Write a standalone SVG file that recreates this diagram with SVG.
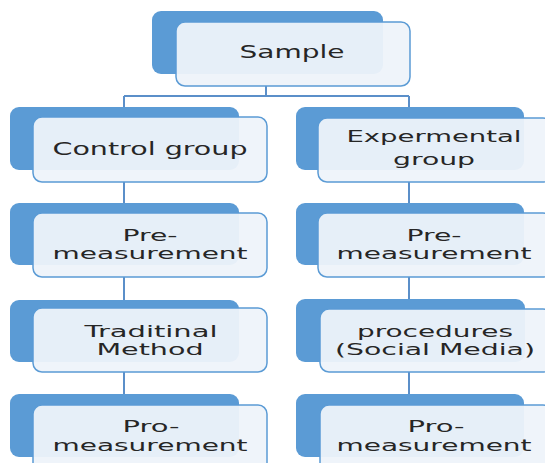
<svg xmlns="http://www.w3.org/2000/svg" width="545" height="463" viewBox="0 0 545 463">
<style>
.back{fill:#5B9BD5;}
.front{fill:#EEF3FA;fill-opacity:0.95;stroke:#5B9BD5;stroke-width:1.5;}
.lbl{font-family:"DejaVu Sans",Verdana,sans-serif;font-size:16px;fill:#262626;text-anchor:middle;}
.big{font-size:18px;}
.conn{fill:none;stroke:#5B8FC9;stroke-width:2;}
</style>
<rect width="545" height="463" fill="#ffffff"/>
<g id="connectors">
<path class="conn" d="M266 86 V96 M124 96 H409 M124 96 V107 M409 96 V107"/>
<path class="conn" d="M124 182 V203 M124 277 V300 M124 372 V394"/>
<path class="conn" d="M409 182 V203 M409 277 V300 M409 372 V394"/>
</g>
<g id="sample">
<rect class="back" x="152" y="11" width="231" height="63" rx="9"/>
<rect class="front" x="176" y="22" width="234" height="64" rx="9"/>
<text class="lbl big" x="292" y="58" textLength="105" lengthAdjust="spacingAndGlyphs">Sample</text>
</g>
<g id="control-group">
<rect class="back" x="10" y="107" width="229" height="63" rx="9"/>
<rect class="front" x="33" y="117" width="234" height="65" rx="9"/>
<text class="lbl big" x="150" y="155" textLength="195" lengthAdjust="spacingAndGlyphs">Control group</text>
</g>
<g id="experimental-group">
<rect class="back" x="296" y="107" width="228" height="63" rx="9"/>
<rect class="front" x="318" y="118" width="234" height="64" rx="9"/>
<text class="lbl" x="434" y="142" textLength="175" lengthAdjust="spacingAndGlyphs">Expermental</text>
<text class="lbl" x="434" y="165" textLength="82" lengthAdjust="spacingAndGlyphs">group</text>
</g>
<g id="control-pre">
<rect class="back" x="10" y="203" width="229" height="62" rx="9"/>
<rect class="front" x="33" y="213" width="234" height="64" rx="9"/>
<text class="lbl" x="150" y="241" textLength="55" lengthAdjust="spacingAndGlyphs">Pre-</text>
<text class="lbl" x="150" y="259" textLength="195" lengthAdjust="spacingAndGlyphs">measurement</text>
</g>
<g id="experimental-pre">
<rect class="back" x="296" y="203" width="228" height="62" rx="9"/>
<rect class="front" x="318" y="213" width="234" height="64" rx="9"/>
<text class="lbl" x="434" y="241" textLength="55" lengthAdjust="spacingAndGlyphs">Pre-</text>
<text class="lbl" x="434" y="259" textLength="195" lengthAdjust="spacingAndGlyphs">measurement</text>
</g>
<g id="traditional-method">
<rect class="back" x="10" y="300" width="229" height="62" rx="9"/>
<rect class="front" x="33" y="308" width="234" height="64" rx="9"/>
<text class="lbl" x="151" y="337" textLength="133" lengthAdjust="spacingAndGlyphs">Traditinal</text>
<text class="lbl" x="150" y="355" textLength="107" lengthAdjust="spacingAndGlyphs">Method</text>
</g>
<g id="social-media">
<rect class="back" x="296" y="299" width="229" height="63" rx="9"/>
<rect class="front" x="320" y="309" width="232" height="63" rx="9"/>
<text class="lbl" x="435" y="337" textLength="156" lengthAdjust="spacingAndGlyphs">procedures</text>
<text class="lbl" x="435" y="355" textLength="200" lengthAdjust="spacingAndGlyphs">(Social Media)</text>
</g>
<g id="control-pro">
<rect class="back" x="10" y="394" width="229" height="63" rx="9"/>
<rect class="front" x="33" y="405" width="234" height="70" rx="9"/>
<text class="lbl" x="151" y="432" textLength="57" lengthAdjust="spacingAndGlyphs">Pro-</text>
<text class="lbl" x="150" y="451" textLength="195" lengthAdjust="spacingAndGlyphs">measurement</text>
</g>
<g id="experimental-pro">
<rect class="back" x="296" y="394" width="228" height="63" rx="9"/>
<rect class="front" x="320" y="405" width="232" height="70" rx="9"/>
<text class="lbl" x="436" y="432" textLength="57" lengthAdjust="spacingAndGlyphs">Pro-</text>
<text class="lbl" x="434" y="451" textLength="195" lengthAdjust="spacingAndGlyphs">measurement</text>
</g>
</svg>
